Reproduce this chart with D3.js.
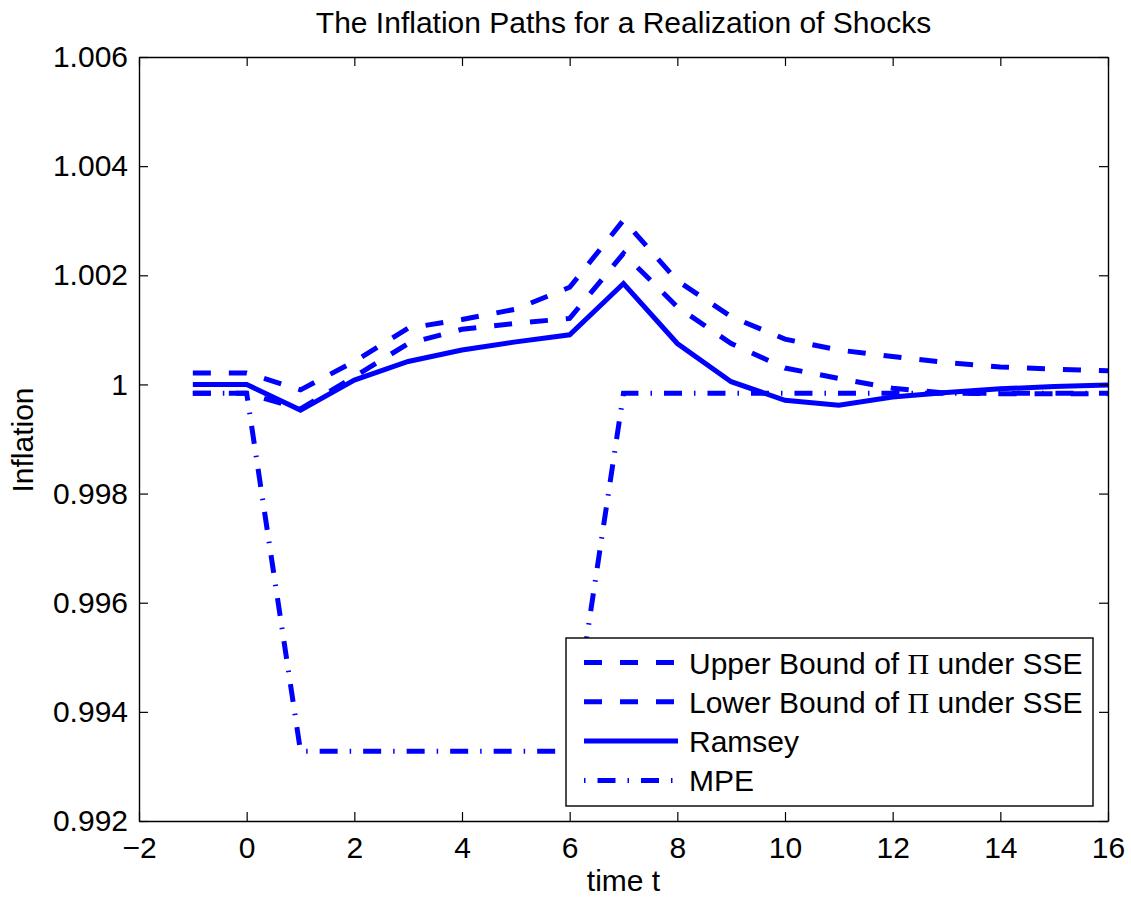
<!DOCTYPE html>
<html lang="en">
<head>
<meta charset="utf-8">
<title>Inflation Paths</title>
<script src="https://d3js.org/d3.v7.min.js"></script>
<style>
  body { margin: 0; background: #fff; }
  text { font-family: "Liberation Sans", Arial, Helvetica, sans-serif; fill: #000; }
</style>
</head>
<body>
<div id="chart"></div>
<script>
// data
var time = [-1, 0, 1, 2, 3, 4, 5, 6, 7, 8, 9, 10, 11, 12, 13, 14, 15, 16]
var upperSSE = [1.00021, 1.00021, 0.9999, 1.00042, 1.00103, 1.00119, 1.00138, 1.00178, 1.00301, 1.0019,
    1.00124, 1.00083, 1.00063, 1.00051, 1.0004, 1.00032, 1.00028, 1.00025]
var lowerSSE = [0.99984, 0.99984, 0.99955, 1.00014, 1.00075, 1.00101, 1.00112, 1.00121, 1.0024, 1.00142,
    1.00075, 1.0003, 1.00011, 0.99993, 0.99984, 0.99983, 0.99983, 0.99983]
var ramsey = [1.0, 1.0, 0.99953, 1.00008, 1.00042, 1.00063, 1.00078, 1.00091, 1.00185, 1.00075,
    1.00005, 0.99971, 0.99962, 0.99977, 0.99985, 0.99992, 0.99996, 0.99999]
var mpe = [0.99984, 0.99984, 0.99328, 0.99328, 0.99328, 0.99328, 0.99328, 0.99328, 0.99984, 0.99984,
    0.99984, 0.99984, 0.99984, 0.99984, 0.99984, 0.99984, 0.99984, 0.99984]
var xTicks = [-2, 0, 2, 4, 6, 8, 10, 12, 14, 16]
var yTicks = [0.992, 0.994, 0.996, 0.998, 1, 1.002, 1.004, 1.006]
var legendLabels = ["Upper Bound of ", "Lower Bound of ", "Ramsey", "MPE"]

var width = 1131, height = 903
var plotL = 139, plotR = 1108, plotT = 57, plotB = 821
var fontSize = "30px"

var svg = d3.select("#chart").append("svg")
    .attr("width", width)
    .attr("height", height)

var x = d3.scaleLinear().domain([-2, 16]).range([plotL, plotR])
var y = d3.scaleLinear().domain([0.992, 1.006]).range([plotB, plotT])

var blue = "#0000ff"
var dash = "18,18"
var dashdot = "18,12,1.5,12"

var series = [
    { vals: upperSSE, dash: dash },
    { vals: lowerSSE, dash: dash },
    { vals: ramsey, dash: null },
    { vals: mpe, dash: dashdot }
]

var line = d3.line()
    .x(function(d) { return x(d[0]) })
    .y(function(d) { return y(d[1]) })

var plot = svg.append("g")
plot.append("clipPath").attr("id", "clip")
    .append("rect").attr("x", plotL).attr("y", plotT)
    .attr("width", plotR - plotL).attr("height", plotB - plotT)

// draw in reverse so upper bound ends up on top
series.slice().reverse().forEach(function(s) {
    plot.append("path")
        .datum(time.map(function(t, i) { return [t, s.vals[i]] }))
        .attr("d", line)
        .attr("fill", "none")
        .attr("stroke", blue)
        .attr("stroke-width", 5)
        .attr("stroke-dasharray", s.dash)
        .attr("clip-path", "url(#clip)")
})

// axes: box with inward ticks on all four sides
var tickLen = 9
var xAxisB = d3.axisBottom(x).tickValues(xTicks).tickSizeInner(-tickLen).tickSizeOuter(0)
    .tickPadding(16).tickFormat(function(d) { return d < 0 ? "\u2212" + Math.abs(d) : d })
var xAxisT = d3.axisTop(x).tickValues(xTicks).tickSizeInner(-tickLen).tickSizeOuter(0).tickFormat("")
var yAxisL = d3.axisLeft(y).tickValues(yTicks).tickSizeInner(-tickLen).tickSizeOuter(0)
    .tickPadding(11).tickFormat(function(d) { return d === 1 ? "1" : d3.format(".3f")(d) })
var yAxisR = d3.axisRight(y).tickValues(yTicks).tickSizeInner(-tickLen).tickSizeOuter(0).tickFormat("")

svg.append("g").attr("transform", "translate(0," + plotB + ")").call(xAxisB)
svg.append("g").attr("transform", "translate(0," + plotT + ")").call(xAxisT)
svg.append("g").attr("transform", "translate(" + plotL + ",0)").call(yAxisL)
svg.append("g").attr("transform", "translate(" + plotR + ",0)").call(yAxisR)

svg.selectAll(".domain").attr("stroke", "#000").attr("stroke-width", 1.4)
svg.selectAll(".tick line").attr("stroke", "#000").attr("stroke-width", 1.2)
svg.selectAll(".tick text")
    .style("font-family", "'Liberation Sans', Arial, sans-serif")
    .style("font-size", fontSize)
    .attr("fill", "#000")

// legend
var lg = svg.append("g")
lg.append("rect")
    .attr("x", 566).attr("y", 638)
    .attr("width", 527).attr("height", 168)
    .attr("fill", "#fff").attr("stroke", "#000").attr("stroke-width", 1.4)

series.forEach(function(s, i) {
    var cy = 662.5 + i * 39.3
    lg.append("line")
        .attr("x1", 584).attr("x2", 678)
        .attr("y1", cy).attr("y2", cy)
        .attr("stroke", blue).attr("stroke-width", 5)
        .attr("stroke-dasharray", s.dash)
        .attr("stroke-dashoffset", s.dash === dashdot ? 30 : 0) // MPE sample starts on the dot
    var t = lg.append("text")
        .attr("x", 689).attr("y", cy + 11)
        .style("font-size", fontSize)
        .text(legendLabels[i])
    if (i < 2) {
        t.append("tspan").style("font-family", "'Liberation Serif', 'Times New Roman', serif").text("\u03a0")
        t.append("tspan").text(" under SSE")
    }
})

// titles
svg.append("text")
    .attr("x", (plotL + plotR) / 2).attr("y", 33)
    .attr("text-anchor", "middle")
    .style("font-size", fontSize)
    .text("The Inflation Paths for a Realization of Shocks")

svg.append("text")
    .attr("x", (plotL + plotR) / 2).attr("y", 891)
    .attr("text-anchor", "middle")
    .style("font-size", fontSize)
    .text("time t")

svg.append("text")
    .attr("transform", "translate(33,440) rotate(-90)")
    .attr("text-anchor", "middle")
    .style("font-size", fontSize)
    .text("Inflation")
</script>
</body>
</html>
